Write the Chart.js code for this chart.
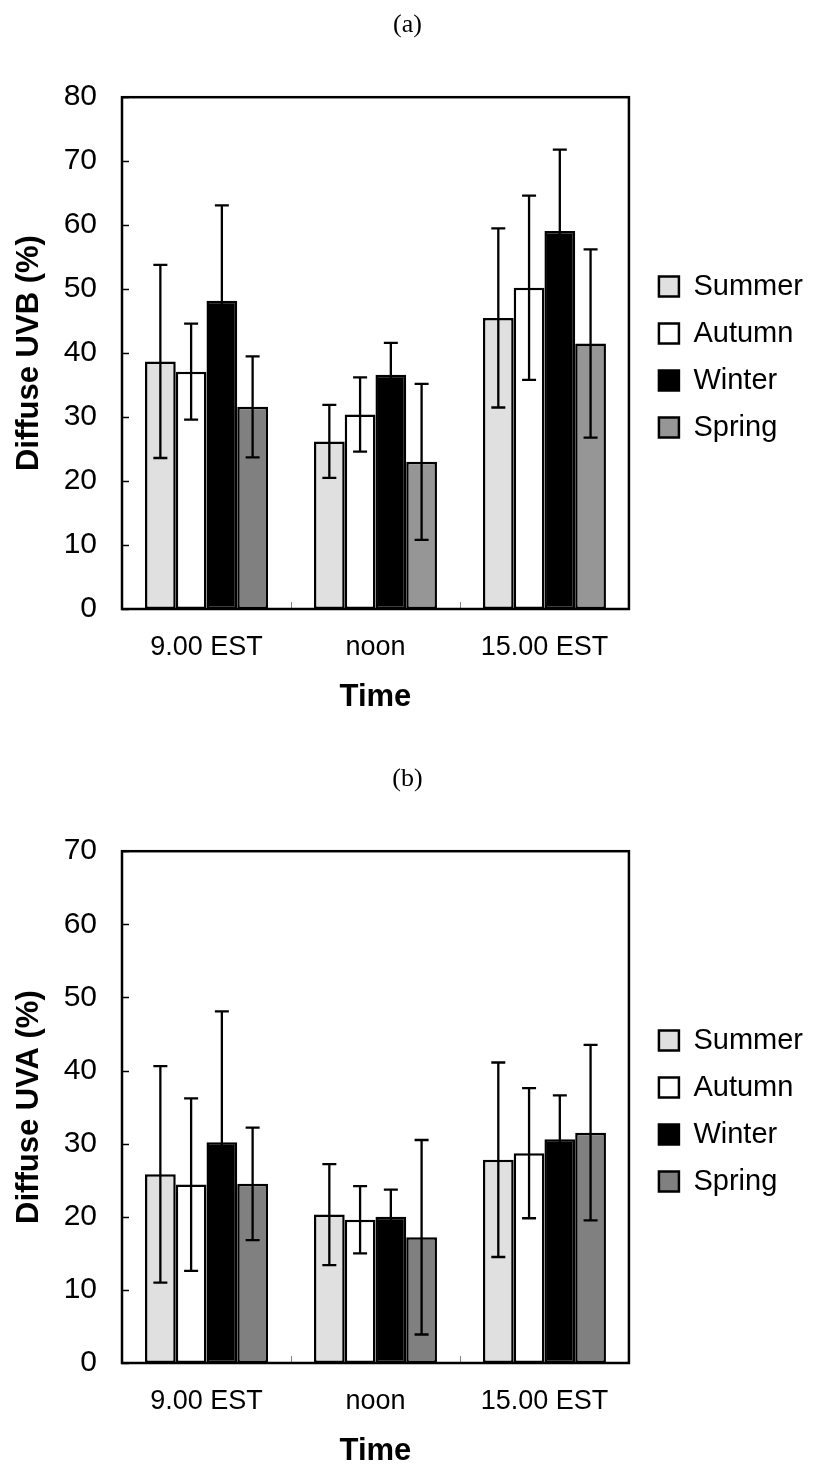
<!DOCTYPE html>
<html>
<head>
<meta charset="utf-8">
<script src="https://cdn.jsdelivr.net/npm/chart.js@4/dist/chart.umd.min.js"></script>
<style>
  body { margin: 0; background: #fff; }
  .wrap { position: relative; width: 816px; height: 1470px; }
  canvas { position: absolute; left: 0; }
</style>
</head>
<body>
<div class="wrap">
  <canvas id="chartA" width="816" height="716" style="top:0"></canvas>
  <canvas id="chartB" width="816" height="716" style="top:754px"></canvas>
</div>
<script>
// categories and series
const categories = ['9.00 EST', 'noon', '15.00 EST'];
const seasons = ['Summer', 'Autumn', 'Winter', 'Spring'];

// (a) diffuse UVB, mean and +/- error
const summerUVB = [38.7, 26.2, 45.5];
const autumnUVB = [37.1, 30.4, 50.2];
const winterUVB = [48.2, 36.6, 59.1];
const springUVB = [31.6, 23.0, 41.5];
const summerUVBErr = [15.1, 5.7, 14.0];
const autumnUVBErr = [7.5, 5.8, 14.4];
const winterUVBErr = [14.9, 5.0, 12.7];
const springUVBErr = [7.9, 12.2, 14.7];

// (b) diffuse UVA, mean and +/- error
const summerUVA = [25.8, 20.3, 27.8];
const autumnUVA = [24.4, 19.6, 28.7];
const winterUVA = [30.2, 20.0, 30.6];
const springUVA = [24.5, 17.2, 31.5];
const summerUVAErr = [14.8, 6.9, 13.3];
const autumnUVAErr = [11.8, 4.6, 8.9];
const winterUVAErr = [17.9, 3.7, 6.0];
const springUVAErr = [7.7, 13.3, 12.0];

// y axis tick labels (every 10, marks every 5)
const uvbTicks = [0, 10, 20, 30, 40, 50, 60, 70, 80];
const uvaTicks = [0, 10, 20, 30, 40, 50, 60, 70];

const SANS = 'Liberation Sans, Arial, sans-serif';

// error bars drawn from each bar element and the y scale
const errorBars = {
    id: 'errorBars',
    afterDatasetsDraw(chart) {
        const ctx = chart.ctx;
        const y = chart.scales.y;
        ctx.save();
        ctx.strokeStyle = '#000';
        ctx.lineWidth = 2.3;
        chart.data.datasets.forEach((ds, i) => {
            chart.getDatasetMeta(i).data.forEach((bar, j) => {
                const v = ds.data[j], e = ds.errors[j];
                const top = y.getPixelForValue(v + e);
                const bot = y.getPixelForValue(v - e);
                ctx.beginPath();
                ctx.moveTo(bar.x, top); ctx.lineTo(bar.x, bot);
                ctx.moveTo(bar.x - 7, top); ctx.lineTo(bar.x + 7, top);
                ctx.moveTo(bar.x - 7, bot); ctx.lineTo(bar.x + 7, bot);
                ctx.stroke();
            });
        });
        ctx.restore();
    }
};

// plot frame with inward tick marks
const frame = {
    id: 'frame',
    afterLayout(chart) {
        chart.legend.left += 12;
        chart.legend.right += 12;
        chart.legend.top += 4;
        chart.legend.bottom += 4;
        chart.titleBlock.left += 7;
        chart.titleBlock.right += 7;
    },
    afterDraw(chart) {
        const ctx = chart.ctx;
        const a = chart.chartArea;
        const y = chart.scales.y, x = chart.scales.x;
        ctx.save();
        // minor ticks on x between categories
        ctx.strokeStyle = '#808080';
        ctx.lineWidth = 1;
        for (let i = 1; i < categories.length; i++) {
            const px = Math.round((x.getPixelForTick(i - 1) + x.getPixelForTick(i)) / 2) + 0.5;
            ctx.beginPath();
            ctx.moveTo(px, a.bottom); ctx.lineTo(px, a.bottom - 7);
            ctx.stroke();
        }
        ctx.strokeStyle = '#000';
        ctx.lineWidth = 1.5;
        y.ticks.forEach(t => {
            const py = Math.round(y.getPixelForValue(t.value)) + 0.5;
            ctx.beginPath();
            ctx.moveTo(a.left, py); ctx.lineTo(a.left + 7, py);
            ctx.stroke();
        });
        ctx.lineWidth = 2.5;
        ctx.strokeRect(a.left, a.top, a.right - a.left, a.bottom - a.top);
        ctx.restore();
    }
};

function makeChart(id, label, title, series, errs, springColors, legendColors, tickLabels) {
    const fills = ['#e0e0e0', '#ffffff', '#000000', springColors];
    const ymax = tickLabels[tickLabels.length - 1];
    return new Chart(document.getElementById(id), {
        type: 'bar',
        data: {
            labels: categories,
            datasets: seasons.map((s, i) => ({
                label: s,
                data: series[i],
                errors: errs[i],
                backgroundColor: fills[i],
                borderColor: '#000',
                borderWidth: 2.5,
                borderSkipped: false,
                barPercentage: 1.0,
                categoryPercentage: 0.728
            }))
        },
        options: {
            responsive: false,
            animation: false,
            layout: { padding: { left: 0, right: 15, top: 0, bottom: 0 } },
            plugins: {
                title: {
                    display: true,
                    text: title,
                    color: '#000',
                    font: { family: 'Liberation Serif, Times New Roman, serif', size: 26, weight: 'normal' },
                    padding: { top: 10, bottom: 56 }
                },
                legend: {
                    position: 'right',
                    fullSize: false,
                    labels: {
                        color: '#000',
                        font: { family: SANS, size: 29 },
                        boxWidth: 20,
                        boxHeight: 20,
                        padding: 18,
                        generateLabels(chart) {
                            const items = Chart.defaults.plugins.legend.labels.generateLabels(chart);
                            items.forEach((it, i) => { it.fillStyle = legendColors[i]; });
                            return items;
                        }
                    }
                },
                tooltip: { enabled: false }
            },
            scales: {
                x: {
                    grid: { display: false, drawTicks: false },
                    border: { display: false },
                    ticks: { color: '#000', font: { family: SANS, size: 27 }, padding: 22 },
                    title: {
                        display: true, text: 'Time', color: '#000',
                        font: { family: SANS, size: 31, weight: 'bold' },
                        padding: { top: 0, bottom: 0 }
                    },
                    afterFit(scale) { scale.height = 107; }
                },
                y: {
                    min: 0,
                    max: ymax,
                    grid: { display: false, drawTicks: false },
                    border: { display: false },
                    ticks: {
                        stepSize: 5,
                        color: '#000',
                        font: { family: SANS, size: 30 },
                        padding: 25,
                        callback: v => tickLabels.includes(v) ? String(v) : ''
                    },
                    title: {
                        display: true, text: label, color: '#000',
                        font: { family: SANS, size: 31, weight: 'bold' },
                        padding: { top: 11, bottom: 0 }
                    },
                    afterFit(scale) { scale.width = 122; }
                }
            }
        },
        plugins: [errorBars, frame]
    });
}

makeChart('chartA', 'Diffuse UVB (%)', '(a)',
    [summerUVB, autumnUVB, winterUVB, springUVB],
    [summerUVBErr, autumnUVBErr, winterUVBErr, springUVBErr],
    ['#808080', '#969696', '#969696'],
    ['#e0e0e0', '#ffffff', '#000000', '#969696'],
    uvbTicks);

makeChart('chartB', 'Diffuse UVA (%)', '(b)',
    [summerUVA, autumnUVA, winterUVA, springUVA],
    [summerUVAErr, autumnUVAErr, winterUVAErr, springUVAErr],
    ['#808080', '#808080', '#808080'],
    ['#e0e0e0', '#ffffff', '#000000', '#808080'],
    uvaTicks);
</script>
</body>
</html>
